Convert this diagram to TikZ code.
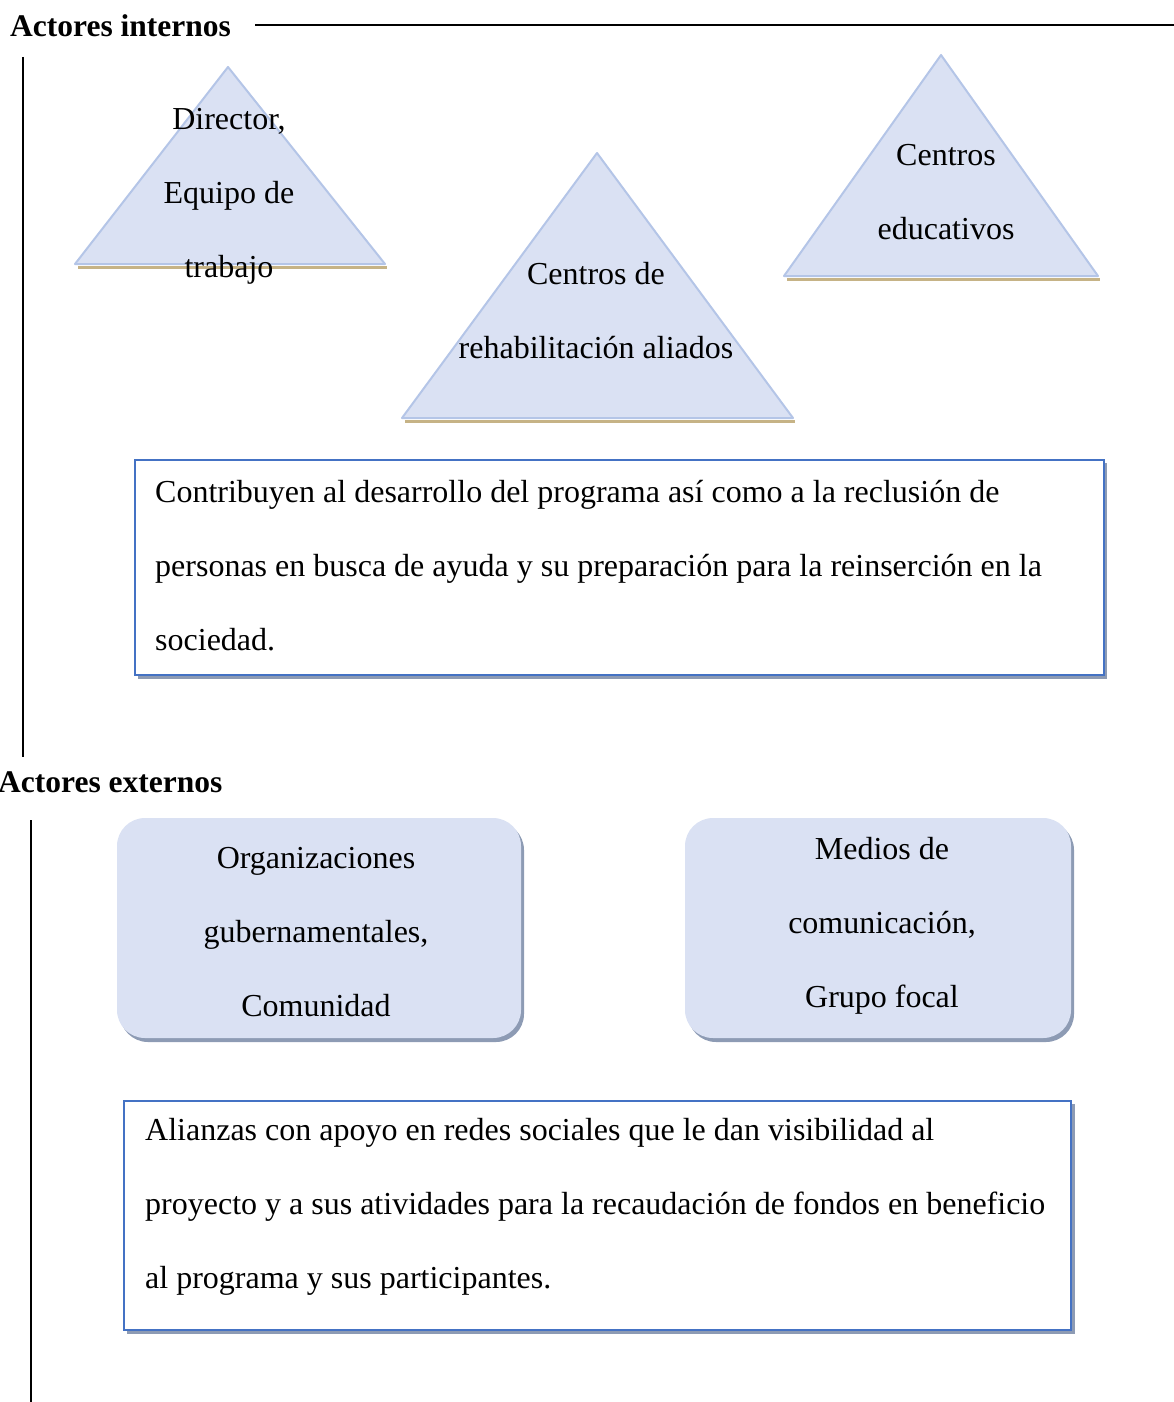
\documentclass[tikz,border=0pt]{standalone}
\usepackage{fontspec}
\setmainfont{Liberation Serif}
\definecolor{triFill}{HTML}{DAE1F3}
\definecolor{triLine}{HTML}{B4C5E7}
\definecolor{triShadow}{HTML}{C6B386}
\definecolor{boxLine}{HTML}{4472C4}
\definecolor{boxShadow}{HTML}{8D9BB4}
\begin{document}
\begin{tikzpicture}[x=1pt, y=-1pt,
    body/.style={font=\fontsize{32}{74}\selectfont, inner sep=0pt},
    tritext/.style={body, align=center},
    para/.style={body, align=left, anchor=west},
    heading/.style={font=\fontsize{31.5}{36}\selectfont\bfseries, inner sep=0pt, anchor=west},
    tri/.style={fill=triFill, draw=triLine, line width=2pt, line join=round},
    textbox/.style={draw=boxLine, line width=1.2pt, fill=white},
    roundbox/.style={fill=triFill, rounded corners=28pt}]
    \useasboundingbox (0,0) rectangle (1174,1402);
    % internos
    \node[heading] (hIn) at (10,26) {Actores internos};
    \draw[line width=1.5pt] (255,25) -- (1174,25);
    \draw[line width=1.5pt] (23,57) -- (23,757);
    \draw[triShadow, line width=3pt] (78,267) -- (387,267);
    \draw[tri] (228,67) coordinate(A1) -- (385,264) -- (75,264) -- cycle;
    \draw[triShadow, line width=3pt] (405,421) -- (795,421);
    \draw[tri] (597,153) coordinate(A2) -- (793,418) -- (402,418) -- cycle;
    \draw[triShadow, line width=3pt] (787,279) -- (1100,279);
    \draw[tri] (941,55) coordinate(A3) -- (1098,276) -- (784,276) -- cycle;
    \node[tritext] (director) at (229,196) {Director,\\Equipo de\\trabajo};
    \node[tritext] (centros) at (596,311) {Centros de\\rehabilitación aliados};
    \node[tritext] (educ) at (946,192) {Centros\\educativos};
    \fill[boxShadow] (138,463) rectangle (1107,679);
    \draw[textbox] (135,460) rectangle (1104,675);
    \node[para] (rolIn) at (155,566) {Contribuyen al desarrollo del programa así como a la reclusión de\\personas en busca de ayuda y su preparación para la reinserción en la\\sociedad.};
    % externos
    \node[heading] (hOut) at (-2,782) {Actores externos};
    \draw[line width=1.5pt] (31,820) -- (31,1402);
    \fill[roundbox, boxShadow] (120,822) rectangle (524,1042);
    \fill[roundbox] (117,818) rectangle (521,1038);
    \fill[roundbox, boxShadow] (688,822) rectangle (1074,1042);
    \fill[roundbox] (685,818) rectangle (1071,1038);
    \node[tritext] (orgs) at (316,932) {Organizaciones\\gubernamentales,\\Comunidad};
    \node[tritext] (medios) at (882,926) {Medios de\\comunicación,\\Grupo focal};
    \fill[boxShadow] (127,1104) rectangle (1075,1334);
    \draw[textbox] (124,1101) rectangle (1071,1330);
    \node[para] (rolOut) at (145,1207) {Alianzas con apoyo en redes sociales que le dan visibilidad al\\proyecto y a sus atividades para la recaudación de fondos en beneficio\\al programa y sus participantes.};
\end{tikzpicture}
\end{document}
